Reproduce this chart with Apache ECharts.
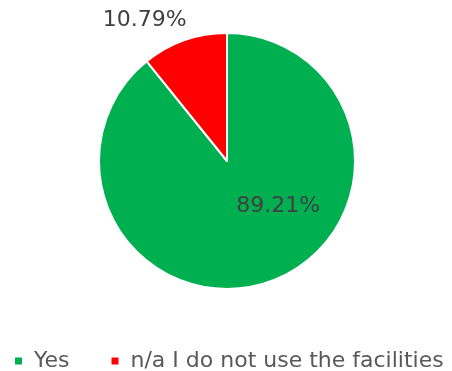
<!DOCTYPE html>
<html><head><meta charset="utf-8">
<script src="https://cdn.jsdelivr.net/npm/echarts@6/dist/echarts.min.js"></script>
<style>html,body{margin:0;padding:0;background:#fff}#c{width:452px;height:371px}</style>
</head><body><div id="c"></div>
<script>
const categories = ['Yes', 'n/a I do not use the facilities'];
const values = [89.21, 10.79];
const colors = ['#00B050', '#FF0000'];
const labelShift = [[29, -18], [-60, -78]];

const chart = echarts.init(document.getElementById('c'), null, {renderer: 'canvas'});
const FONT = 'DejaVu Sans';
chart.setOption({
  animation: false,
  backgroundColor: '#fff',
  color: colors,
  legend: {
    top: 345, left: 8,
    itemWidth: 9, itemHeight: 9, itemGap: 40,
    icon: 'rect',
    textStyle: {fontFamily: FONT, fontSize: 22, color: '#595959', padding: [0, 0, 0, 6]},
    data: categories
  },
  series: [{
    type: 'pie',
    center: [227, 161],
    radius: [0, 128],
    startAngle: 90,
    clockwise: true,
    itemStyle: {borderColor: '#fff', borderWidth: 2},
    label: {
      position: 'inside',
      fontFamily: FONT, fontSize: 22, color: '#404040',
      formatter: p => p.value.toFixed(2) + '%'
    },
    labelLine: {show: false},
    labelLayout: p => ({dx: labelShift[p.dataIndex][0], dy: labelShift[p.dataIndex][1]}),
    data: categories.map((c, i) => ({name: c, value: values[i]}))
  }]
});
</script></body></html>
